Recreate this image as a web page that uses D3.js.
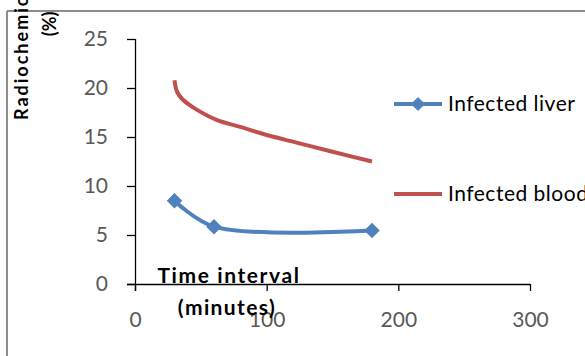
<!DOCTYPE html>
<html><head><meta charset="utf-8">
<script src="https://cdn.jsdelivr.net/npm/d3@7"></script>
<style>html,body{margin:0;padding:0;background:#fff;overflow:hidden}</style>
</head><body>
<svg id="chart" width="585" height="356"></svg>
<script>
const xTicks = [0, 100, 200, 300];
const yTicks = [0, 5, 10, 15, 20, 25];
const seriesNames = ["Infected liver", "Infected blood"];
const liverTime = [30, 60, 180];
const liverValue = [8.5, 5.85, 5.45];
const bloodTime = [30, 32, 36, 45, 62, 82, 100, 125, 150, 180];
const bloodValue = [20.8, 19.6, 18.85, 17.95, 16.75, 15.95, 15.2, 14.35, 13.5, 12.5];
const yTitle = ["Radiochemical purity", "(%)"];
const xTitle = ["Time interval", "(minutes)"];

const svg = d3.select("#chart");
const x = d3.scaleLinear().domain([0, 300]).range([135, 530]);
const y = d3.scaleLinear().domain([0, 25]).range([284, 39]);
const blue = "#4F81BD", red = "#C0504D";
const font = "Lato, 'Open Sans', sans-serif";

// frame
svg.append("line").attr("x1", 7).attr("x2", 585).attr("y1", 11).attr("y2", 11).attr("stroke", "#8c8c8c").attr("stroke-width", 2);
svg.append("line").attr("x1", 7).attr("x2", 7).attr("y1", 11).attr("y2", 356).attr("stroke", "#8c8c8c").attr("stroke-width", 2);

// axes
const yAxis = svg.append("g").attr("transform", "translate(135,0)")
  .call(d3.axisLeft(y).tickValues(yTicks).tickSize(8).tickPadding(19));
const xAxis = svg.append("g").attr("transform", "translate(0,284)")
  .call(d3.axisBottom(x).tickValues(xTicks).tickSize(7).tickPadding(21));
[yAxis, xAxis].forEach(g => {
  g.select(".domain").attr("stroke", "#000").attr("stroke-width", 1.3);
  g.selectAll(".tick line").attr("stroke", "#000").attr("stroke-width", 1.3);
  g.selectAll("text").attr("fill", "#595959").attr("font-family", font).attr("font-size", 21);
});
xAxis.select(".domain").attr("d", "M127,0.5H530");
yAxis.select(".domain").attr("d", "M0.5,39V291");

// series
const liverData = liverTime.map((t, i) => [t, liverValue[i]]);
const bloodData = bloodTime.map((t, i) => [t, bloodValue[i]]);
const lineL = d3.line().x(d => x(d[0])).y(d => y(d[1])).curve(d3.curveCatmullRom.alpha(0.5));
const lineB = d3.line().x(d => x(d[0])).y(d => y(d[1])).curve(d3.curveCatmullRom.alpha(0.5));
svg.append("path").datum(bloodData).attr("d", lineB).attr("fill", "none").attr("stroke", red).attr("stroke-width", 4);
svg.append("path").datum(liverData).attr("d", lineL).attr("fill", "none").attr("stroke", blue).attr("stroke-width", 4);
svg.selectAll(".mk").data(liverData).enter().append("path")
  .attr("transform", d => `translate(${x(d[0])},${y(d[1])}) rotate(45)`)
  .attr("d", d3.symbol().type(d3.symbolSquare).size(120)).attr("fill", blue);

// axis titles
svg.append("text").attr("transform", "translate(28,120) rotate(-90)")
  .attr("text-anchor", "start").attr("font-family", font).attr("font-weight", "bold").attr("font-size", 18).attr("letter-spacing", 2).attr("fill", "#000")
  .text(yTitle[0]);
svg.append("text").attr("transform", "translate(56,24) rotate(-90)")
  .attr("text-anchor", "middle").attr("font-family", font).attr("font-weight", "bold").attr("font-size", 18).attr("fill", "#000")
  .text(yTitle[1]);

const xt = svg.append("text").attr("text-anchor", "middle").attr("font-family", font).attr("font-weight", "bold").attr("font-size", 21).attr("fill", "#000");
xt.append("tspan").attr("x", 229).attr("y", 283).attr("letter-spacing", 1.6).text(xTitle[0]);
xt.append("tspan").attr("x", 227).attr("y", 315).attr("letter-spacing", 1.4).text(xTitle[1]);

// legend
const lg = [{name: seriesNames[0], c: blue, y: 104, mk: true}, {name: seriesNames[1], c: red, y: 194, mk: false}];
lg.forEach(l => {
  svg.append("line").attr("x1", 394).attr("x2", 442).attr("y1", l.y).attr("y2", l.y).attr("stroke", l.c).attr("stroke-width", 4);
  if (l.mk) svg.append("path").attr("transform", `translate(418,${l.y}) rotate(45)`).attr("d", d3.symbol().type(d3.symbolSquare).size(100)).attr("fill", l.c);
  svg.append("text").attr("x", 448).attr("y", l.y + 7).attr("font-family", font).attr("font-size", 21).attr("letter-spacing", 0.5).attr("fill", "#000").text(l.name);
});
</script>
</body></html>
